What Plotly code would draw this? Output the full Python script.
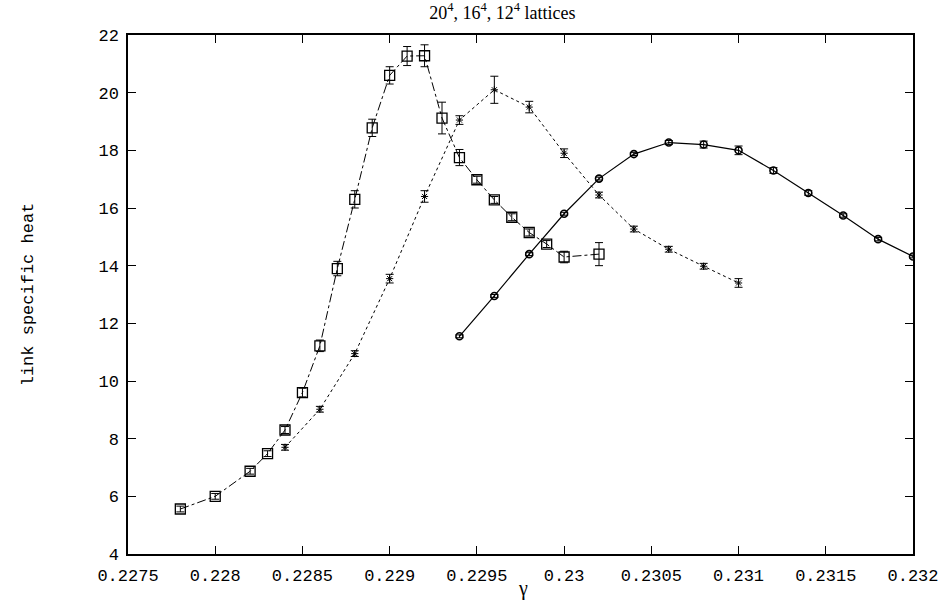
import plotly.graph_objects as go

# 20^4 lattice (squares, dash-dot)
x20 = [0.2278, 0.2280, 0.2282, 0.2283, 0.2284, 0.2285, 0.2286, 0.2287, 0.2288, 0.2289,
       0.2290, 0.2291, 0.2292, 0.2293, 0.2294, 0.2295, 0.2296, 0.2297, 0.2298, 0.2299,
       0.2300, 0.2302]
y20 = [5.56, 6.0, 6.87, 7.48, 8.3, 9.6, 11.22, 13.9, 16.3, 18.78,
       20.6, 21.27, 21.28, 19.12, 17.75, 16.98, 16.28, 15.68, 15.15, 14.75,
       14.3, 14.4]
e20 = [0.1, 0.1, 0.1, 0.1, 0.12, 0.15, 0.2, 0.25, 0.3, 0.3,
       0.3, 0.33, 0.38, 0.55, 0.28, 0.12, 0.12, 0.12, 0.12, 0.12,
       0.2, 0.4]

# 16^4 lattice (crosses, dotted)
x16 = [0.2284, 0.2286, 0.2288, 0.2290, 0.2292, 0.2294, 0.2296, 0.2298, 0.2300, 0.2302,
       0.2304, 0.2306, 0.2308, 0.2310]
y16 = [7.7, 9.02, 10.95, 13.55, 16.4, 19.05, 20.1, 19.5, 17.9, 16.45,
       15.27, 14.57, 13.98, 13.4]
e16 = [0.1, 0.1, 0.1, 0.15, 0.2, 0.15, 0.47, 0.2, 0.15, 0.1,
       0.1, 0.1, 0.1, 0.15]

# 12^4 lattice (circles, solid)
x12 = [0.2294, 0.2296, 0.2298, 0.2300, 0.2302, 0.2304, 0.2306, 0.2308, 0.2310, 0.2312,
       0.2314, 0.2316, 0.2318, 0.2320]
y12 = [11.55, 12.95, 14.4, 15.8, 17.02, 17.87, 18.27, 18.2, 18.0, 17.3,
       16.52, 15.74, 14.92, 14.32]
e12 = [0.05, 0.05, 0.05, 0.05, 0.05, 0.05, 0.07, 0.12, 0.15, 0.1,
       0.08, 0.06, 0.06, 0.05]

xticks = [0.2275, 0.228, 0.2285, 0.229, 0.2295, 0.23, 0.2305, 0.231, 0.2315, 0.232]
xticktext = ["0.2275", "0.228", "0.2285", "0.229", "0.2295", "0.23", "0.2305", "0.231", "0.2315", "0.232"]
yticks = [4, 6, 8, 10, 12, 14, 16, 18, 20, 22]

MONO = "Liberation Mono, Courier New, monospace"
SERIF = "Liberation Serif, Times New Roman, serif"

fig = go.Figure()
eb = dict(type="data", thickness=1, width=4, color="black")

fig.add_trace(go.Scatter(
    x=x20, y=y20, mode="lines+markers", name="20^4",
    error_y=dict(array=e20, **eb),
    line=dict(color="black", width=1, dash="dashdot"),
    marker=dict(symbol="square-open", size=10, color="black", line=dict(width=1.3)),
))
fig.add_trace(go.Scatter(
    x=x16, y=y16, mode="lines+markers", name="16^4",
    error_y=dict(array=e16, **eb),
    line=dict(color="black", width=1, dash="dot"),
    marker=dict(symbol="asterisk-open", size=6, color="black", line=dict(width=1, color="black")),
))
fig.add_trace(go.Scatter(
    x=x12, y=y12, mode="lines+markers", name="12^4",
    error_y=dict(array=e12, **eb),
    line=dict(color="black", width=1.2),
    marker=dict(symbol="circle-open", size=7, color="black", line=dict(width=1.6)),
))

axis_common = dict(
    showgrid=False, zeroline=False, showline=True, linecolor="black", linewidth=1.5,
    mirror="ticks", ticks="inside", ticklen=8, tickwidth=1.3, tickcolor="black",
    tickfont=dict(family=MONO, size=17, color="black"), automargin=False,
)

fig.update_layout(
    width=939, height=602,
    margin=dict(l=128, r=26, t=35, b=48),
    paper_bgcolor="white", plot_bgcolor="white",
    showlegend=False,
    title=dict(text="20<sup>4</sup>, 16<sup>4</sup>, 12<sup>4</sup> lattices",
               x=0.535, xanchor="center", y=0.99, yanchor="top",
               font=dict(family=SERIF, size=18, color="black")),
    xaxis=dict(range=[0.2275, 0.232], tickvals=xticks, ticktext=xticktext,
               ticklabelstandoff=5, **axis_common),
    yaxis=dict(range=[4, 22], tickvals=yticks, ticklabelstandoff=4,
               title=dict(text="link specific heat",
                          font=dict(family=MONO, size=17, color="black"),
                          standoff=60),
               **axis_common),
    annotations=[dict(text="γ", xref="paper", yref="paper", x=0.503, y=0.0,
                      yshift=-34, xanchor="center", yanchor="middle", showarrow=False,
                      font=dict(family=SERIF, size=20, color="black"))],
)

fig.write_html("out.html")
